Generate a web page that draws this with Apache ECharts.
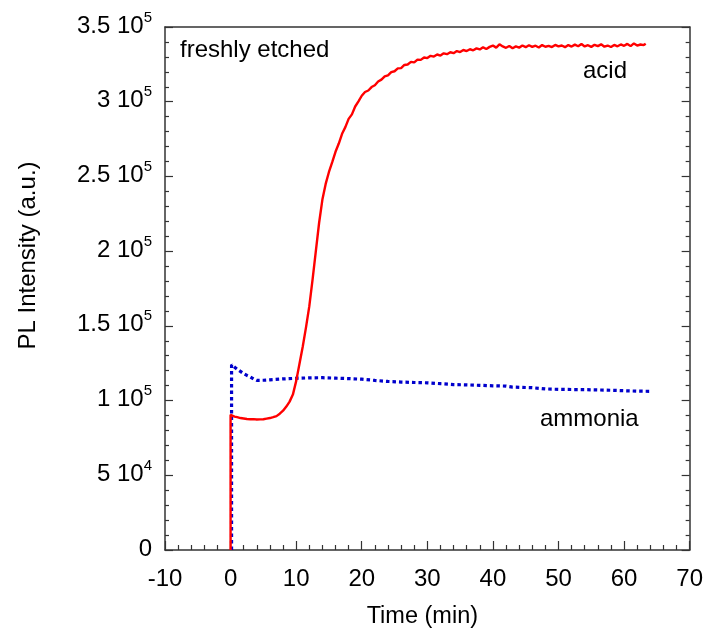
<!DOCTYPE html>
<html>
<head>
<meta charset="utf-8">
<script src="https://cdn.jsdelivr.net/npm/echarts@6/dist/echarts.min.js"></script>
<style>
  html, body { margin: 0; padding: 0; background: #fff; }
  #main { width: 706px; height: 639px; }
</style>
</head>
<body>
<div id="main"></div>
<script>
var FONT = "'Liberation Sans', Arial, sans-serif";

// x ticks / y ticks
var xTicks = [-10, 0, 10, 20, 30, 40, 50, 60, 70];
var yTicks = [0, 50000, 100000, 150000, 200000, 250000, 300000, 350000];

// acid etched sample: [time (min), PL intensity]
var acid = [
    [0, 0], [0, 90500], [0.3, 90000], [0.6, 89300], [1, 88900], [1.5, 88300],
    [2, 88000], [2.5, 87700], [3, 87500], [3.5, 87600], [4, 87300], [4.5, 87400],
    [5, 87500], [5.5, 87900], [6, 88300], [6.5, 88900], [7, 89600], [7.5, 91200],
    [8, 93200], [8.5, 96000], [9, 99300], [9.5, 104000], [10, 113000], [10.5, 124500],
    [11, 136000], [11.5, 149000], [12, 163000], [12.5, 181000], [13, 200000], [13.5, 219000],
    [14, 234500], [14.5, 245000], [15, 253000], [15.5, 259500], [16, 266500], [16.5, 272000],
    [17, 278500], [17.5, 283000], [18, 288500], [18.5, 291500], [19, 296800], [19.5, 300200],
    [20, 304000], [20.5, 306500], [21, 307500], [21.5, 309800], [22, 311000], [22.5, 313500],
    [23, 314800], [23.5, 316900], [24, 317600], [24.5, 319800], [25, 320400], [25.5, 322300],
    [26, 322500], [26.5, 324600], [27, 324900], [27.5, 326700], [28, 326300], [28.5, 328200],
    [29, 328000], [29.5, 329600], [30, 329200], [30.5, 330700], [31, 330200], [31.5, 331600],
    [32, 330900], [32.5, 332400], [33, 331800], [33.5, 333100], [34, 332500], [34.5, 333900],
    [35, 333200], [35.5, 334600], [36, 333900], [36.5, 335100], [37, 334400], [37.5, 335700],
    [38, 335000], [38.5, 336400], [39, 335300], [39.5, 336700], [40, 337600], [40.5, 336200],
    [41, 338400], [41.5, 337000], [42, 336100], [42.5, 337300], [43, 335800], [43.5, 337000],
    [44, 336200], [44.5, 337600], [45, 336500], [45.5, 337800], [46, 336700], [46.5, 337500],
    [47, 336300], [47.5, 337900], [48, 336800], [48.5, 337400], [49, 336600], [49.5, 338000],
    [50, 337000], [50.5, 337600], [51, 336500], [51.5, 337900], [52, 336900], [52.5, 338200],
    [53, 337100], [53.5, 338600], [54, 337000], [54.5, 337800], [55, 336700], [55.5, 338100],
    [56, 337200], [56.5, 338400], [57, 336800], [57.5, 337600], [58, 336600], [58.5, 338000],
    [59, 337100], [59.5, 338300], [60, 337400], [60.5, 338700], [61, 337200], [61.5, 339000],
    [62, 337600], [62.5, 338300], [63, 337900], [63.3, 338800]
];

// ammonia treated sample
var ammonia = [
    [0.15, 0], [0.15, 124000], [0.5, 122800], [1, 121000], [1.5, 119500], [2, 118000],
    [2.5, 116800], [3, 115800], [3.5, 114500], [4, 113500], [5, 113600], [6, 113900],
    [8, 114500], [10, 114900], [12, 115200], [14, 115300], [16, 115000], [18, 114700],
    [20, 114300], [22, 113500], [24, 112800], [26, 112400], [28, 112100], [30, 111900],
    [32, 111300], [34, 110700], [36, 110500], [38, 110200], [40, 109900], [42, 109700],
    [43, 109000], [46, 108600], [48, 107800], [50, 107500], [52, 107400], [54, 107300],
    [56, 107100], [58, 106900], [60, 106600], [62, 106300], [64, 106200]
];

var dom = document.getElementById('main');
var myChart = echarts.init(dom);

function yLabel(v) {
    if (v === 0) return '{b|0}';
    var e = Math.floor(Math.log10(v) + 1e-9);
    var m = +(v / Math.pow(10, e)).toFixed(2);
    return '{b|' + m + ' 10}{s|' + e + '}';
}

var axisLine = { show: true, onZero: false, lineStyle: { color: '#333', width: 1.5 } };
var tickStyle = { color: '#333', width: 1.2 };

var option = {
    animation: false,
    backgroundColor: '#fff',
    grid: { left: 165, right: 16, top: 27, bottom: 89 },
    xAxis: [{
        type: 'value',
        min: xTicks[0], max: xTicks[xTicks.length - 1], interval: 10,
        position: 'bottom',
        axisLine: axisLine,
        axisTick: { inside: true, length: 9, lineStyle: tickStyle },
        minorTick: { show: true, splitNumber: 5, length: 5, lineStyle: tickStyle },
        splitLine: { show: false },
        axisLabel: { fontSize: 24, color: '#000', fontFamily: FONT, margin: 17 },
        name: 'Time (min)',
        nameLocation: 'middle',
        nameGap: 55,
        nameTextStyle: { fontSize: 23.5, color: '#000', fontFamily: FONT, padding: [0, 10, 0, 0] }
    }, {
        type: 'value',
        min: xTicks[0], max: xTicks[xTicks.length - 1], interval: 10,
        position: 'top',
        axisLine: axisLine,
        axisTick: { show: false },
        axisLabel: { show: false },
        splitLine: { show: false }
    }],
    yAxis: [{
        type: 'value',
        min: yTicks[0], max: yTicks[yTicks.length - 1], interval: 50000,
        position: 'left',
        axisLine: axisLine,
        axisTick: { inside: true, length: 8, lineStyle: tickStyle },
        minorTick: { show: true, splitNumber: 5, length: 4, lineStyle: tickStyle },
        splitLine: { show: false },
        axisLabel: {
            margin: 13,
            padding: [0, 0, 6, 0],
            formatter: yLabel,
            rich: {
                b: { fontSize: 24, color: '#000', fontFamily: FONT, lineHeight: 28, verticalAlign: 'bottom' },
                s: { fontSize: 15, color: '#000', fontFamily: FONT, lineHeight: 12, verticalAlign: 'top' }
            }
        },
        name: 'PL Intensity (a.u.)',
        nameLocation: 'middle',
        nameGap: 125,
        nameTextStyle: { fontSize: 24, color: '#000', fontFamily: FONT, padding: [0, 0, 0, 66] }
    }, {
        type: 'value',
        min: yTicks[0], max: yTicks[yTicks.length - 1], interval: 50000,
        position: 'right',
        axisLine: axisLine,
        axisTick: { inside: true, length: 8, lineStyle: tickStyle },
        minorTick: { show: true, splitNumber: 5, length: 4, lineStyle: tickStyle },
        axisLabel: { show: false },
        splitLine: { show: false }
    }],
    graphic: [
        { type: 'text', left: 180, top: 38, style: { text: 'freshly etched', fontSize: 24, fontFamily: FONT, fill: '#000' } },
        { type: 'text', left: 583, top: 59, style: { text: 'acid', fontSize: 24, fontFamily: FONT, fill: '#000' } },
        { type: 'text', left: 540, top: 407, style: { text: 'ammonia', fontSize: 24, fontFamily: FONT, fill: '#000' } }
    ],
    series: [{
        name: 'ammonia',
        type: 'line',
        data: ammonia,
        showSymbol: false,
        lineStyle: { color: '#0000cc', width: 3.2, type: [3.5, 3], cap: 'butt' },
        z: 2
    }, {
        name: 'acid',
        type: 'line',
        data: acid,
        showSymbol: false,
        lineStyle: { color: '#ff0000', width: 2.4 },
        z: 3
    }]
};

myChart.setOption(option);
</script>
</body>
</html>
